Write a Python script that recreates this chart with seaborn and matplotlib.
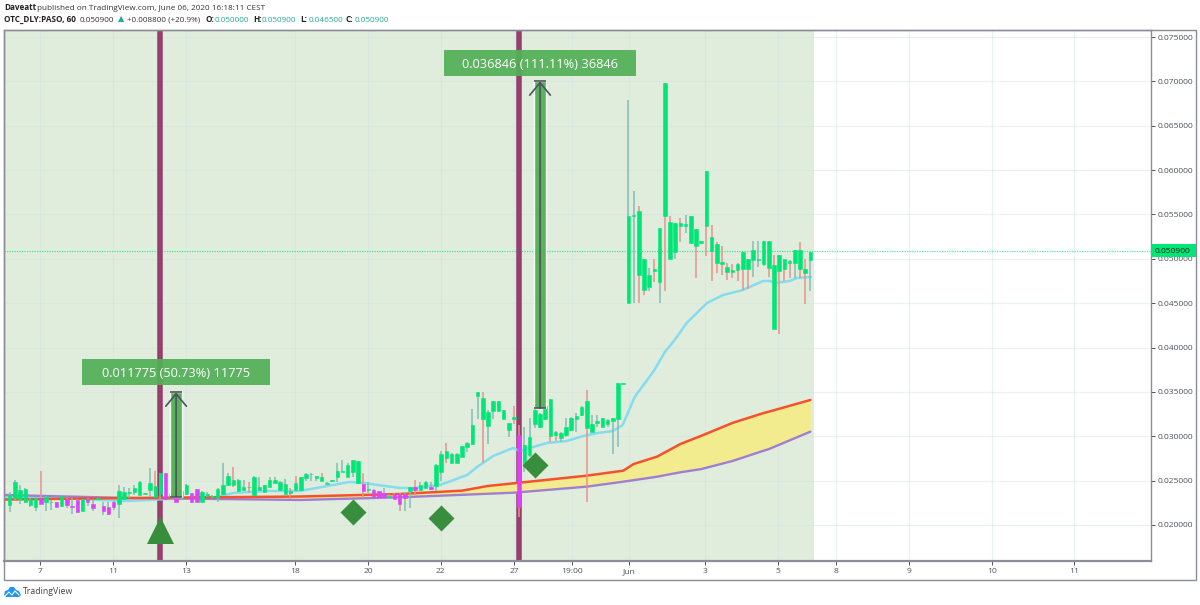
import numpy as np
import pandas as pd
import matplotlib
matplotlib.use("Agg")
import matplotlib.pyplot as plt
import seaborn as sns
from matplotlib.lines import Line2D
from matplotlib.patches import Rectangle, Polygon

sns.set_theme(style="white")
plt.rcParams['font.family'] = ['Open Sans', 'DejaVu Sans']

# candle values, in thousandths of a price unit
body_hi = [23.38,24.89,23.95,24.02,22.93,23.01,23.01,23.20,22.63,22.56,
           23.31,22.90,22.18,22.82,22.90,22.93,22.37,23.01,22.18,22.07,
           22.63,23.84,23.72,23.72,24.14,24.89,23.57,24.74,24.40,25.90,
           25.90,23.50,23.01,23.84,24.51,23.57,24.02,23.72,23.46,23.27,
           24.06,24.51,25.53,25.07,25.07,24.25,24.32,25.45,24.32,24.47,
           25.07,25.07,24.89,24.62,23.87,24.70,25.45,25.71,25.79,25.49,
           25.45,24.77,25.04,26.09,26.05,26.73,27.33,27.25,24.62,24.02,
           23.95,23.84,23.57,23.27,23.50,23.50,23.50,24.25,24.29,24.47,
           24.89,24.25,26.80,28.01,28.38,28.01,28.01,28.91,29.28,31.27,
           34.96,34.28,32.78,33.98,33.98,32.96,31.46,32.18,30.15,29.02,
           29.96,32.96,32.48,33.42,34.20,30.52,30.41,31.01,32.03,32.29,
           33.30,33.98,31.39,31.72,32.02,31.80,32.02,35.97,36.00,54.86,
           54.93,55.39,49.94,48.17,48.81,53.43,69.85,54.18,54.03,54.03,
           53.88,54.82,53.36,51.97,59.86,52.42,51.67,49.64,49.07,48.73,
           49.41,50.76,49.94,50.95,49.97,52.00,52.00,49.30,50.43,49.94,
           49.79,50.95,50.95,48.88,50.76]
body_lo = [22.26,23.01,22.90,22.63,22.26,21.99,22.37,22.63,22.56,22.07,
           22.18,22.26,21.99,21.43,21.62,22.56,21.88,22.93,21.62,21.24,
           21.99,22.37,22.93,23.65,23.76,23.38,23.50,23.95,23.20,23.46,
           22.90,23.27,22.56,23.08,23.50,22.56,22.63,22.63,23.27,23.12,
           23.01,23.46,24.51,24.51,23.87,23.95,24.25,23.38,23.95,23.76,
           24.32,24.77,23.95,23.50,23.65,23.95,23.95,25.26,25.71,25.26,
           25.00,24.62,24.96,25.45,25.98,25.45,25.94,24.70,23.84,23.95,
           23.20,23.20,23.20,23.20,22.93,22.37,23.01,23.87,23.95,23.95,
           24.21,24.06,24.40,26.01,27.52,26.95,26.95,27.70,28.83,29.13,
           34.58,31.95,31.20,32.89,32.89,31.95,30.71,31.95,21.99,26.95,
           27.89,31.39,31.09,31.95,30.07,30.15,29.77,30.11,30.71,31.95,
           32.40,30.97,30.52,31.50,31.01,31.38,31.76,31.95,35.93,45.05,
           54.78,48.17,46.48,46.86,48.66,47.42,54.86,49.97,50.76,53.69,
           53.73,51.82,51.48,51.82,53.69,50.88,49.56,49.37,48.47,48.55,
           48.70,48.85,48.85,49.90,49.90,49.41,49.00,42.05,48.62,48.85,
           49.56,49.52,48.85,48.40,49.90]
wick_hi = [23.76,25.07,24.51,24.14,23.01,23.12,26.09,23.27,22.82,22.63,
           23.38,23.01,23.01,22.90,22.97,23.01,22.82,23.08,22.63,22.63,
           22.82,24.51,24.32,24.14,24.51,25.00,23.65,26.46,26.09,25.90,
           25.90,23.57,23.38,23.95,24.59,23.65,24.10,23.84,23.76,23.38,
           24.14,27.03,25.83,26.50,25.15,25.07,24.89,25.53,25.45,24.55,
           25.45,25.38,25.00,25.15,24.14,25.53,25.45,25.83,25.83,25.53,
           25.83,24.85,25.11,27.03,27.33,26.95,27.33,27.25,25.83,24.89,
           24.02,23.87,24.14,23.50,23.57,23.57,23.76,24.32,25.07,24.89,
           25.00,24.89,26.88,28.38,29.28,28.08,28.08,28.91,29.40,33.04,
           34.96,34.96,32.96,33.98,33.98,32.96,31.54,33.45,31.27,31.09,
           32.03,33.04,32.59,33.53,34.20,30.60,30.52,32.03,32.14,32.59,
           33.42,35.22,32.40,32.40,32.02,31.91,32.02,35.97,36.00,67.90,
           57.68,55.95,49.94,48.92,49.94,53.43,69.85,54.86,54.03,54.63,
           54.93,54.82,53.36,51.97,59.86,53.77,51.89,51.44,49.49,49.41,
           49.49,50.76,49.94,52.00,52.00,52.00,52.00,50.43,50.43,49.94,
           49.86,50.95,51.93,49.94,50.76]
wick_lo = [21.43,22.82,22.33,22.52,22.07,21.62,22.37,21.62,21.69,21.99,
           22.07,21.96,21.21,21.39,21.58,22.18,21.62,22.82,21.13,21.13,
           21.69,20.83,22.82,23.01,23.38,23.38,23.50,23.20,23.12,22.82,
           22.82,23.20,22.56,23.01,23.38,22.52,22.60,22.56,23.12,23.01,
           22.56,23.38,24.40,24.32,23.76,23.87,23.57,23.27,23.87,23.72,
           24.25,24.70,23.87,23.46,22.90,23.87,23.87,25.00,25.00,25.00,
           24.92,24.62,24.85,24.89,25.98,25.38,25.45,24.62,23.01,23.57,
           23.12,23.12,23.12,22.97,22.90,21.62,21.62,21.96,23.38,23.87,
           24.10,23.95,23.87,25.00,27.03,26.95,26.95,27.70,28.23,29.02,
           31.95,26.95,29.13,31.91,32.89,31.95,29.88,31.35,20.94,26.01,
           27.70,30.90,30.97,31.84,29.40,29.51,29.40,29.88,30.60,30.52,
           32.29,22.63,30.45,31.01,31.01,31.01,28.00,28.83,35.93,45.05,
           45.05,44.98,45.92,46.41,47.42,44.98,46.41,49.97,49.97,51.93,
           52.87,51.82,47.87,51.82,50.35,47.50,48.43,48.17,47.61,47.87,
           47.50,46.48,46.56,48.00,49.11,49.22,48.00,42.05,41.48,47.50,
           47.80,47.80,47.80,44.90,46.41]
down_bars = [6,9,11,12,13,15,16,18,19,20,30,32,35,36,68,70,71,72,74,75,76,78,81,98]
red_wicks = [6,28,43,46,54,55,60,68,75,78,84,91,97,98,104,105,111,121,122,124,126,
             127,129,132,134,135,136,137,138,139,140,141,142,146,147,148,149,150,152,153]

# moving averages
ema_x = [-1,11,17.4,22.6,30.3,39.9,43,49.5,55.8,62.2,65.4,68,75,77.6,82.8,88,89.9,93,96.8,98.1,
         103.3,107.2,110.3,113.1,116,117.9,120.2,124,126,127.9,130.2,134.1,137.2,141,144.9,
         146.2,147.2,150,151.4,154.1]
ema_y = [23.16,23.04,22.82,22.70,22.93,23.16,23.61,23.83,23.83,24.51,24.85,24.73,24.17,24.17,24.51,
         25.64,26.54,27.78,28.68,28.34,29.24,29.47,30.03,30.37,30.59,31.27,34.43,37.47,39.50,40.85,
         42.77,45.02,45.92,46.48,47.50,47.50,47.27,47.50,47.84,47.95]
ma_x = [-1,23,56,75,87,92,97,111,118,120,124.5,129,133,139,145,146,154]
ma_fast = [22.87,23.04,23.21,23.49,23.87,24.40,24.70,25.56,26.12,26.87,27.70,29.13,30.05,31.50,32.62,32.77,34.09]
ma_slow = [23.38,23.04,22.82,23.12,23.40,23.52,23.64,24.32,24.88,25.05,25.44,25.94,26.30,27.21,28.37,28.55,30.52]

# drawings on the chart
signal_bars = [29, 98]
triangle_x, triangle_y = [29], [19.49]
diamond_x = [66, 83, 101]
diamond_y = [21.50, 20.82, 26.76]
arrow_x = [32, 102]
arrow_from = [23.165, 33.154]
arrow_to = [34.94, 70.0]
arrow_text = ["0.011775 (50.73%) 11775", "0.036846 (111.11%) 36846"]
label_y = [37.24, 72.1]
label_w = [36, 37]

price_ticks = [20, 25, 30, 35, 40, 45, 50, 55, 60, 65, 70, 75]
day_pos = [5.83,19.87,33.9,54.9,68.9,82.9,97,108.1,119.1,133.7,147.8,158.9,173,188.9,204.7]
day_labels = ["7","11","13","18","20","22","27","19:00","Jun","3","5","8","9","10","11"]
last_price = 50.9

UP = "#00e676"
DOWN = "#e040fb"
TEAL = "#26a69a"
GREY = "#50535e"

bars = pd.DataFrame({"body_hi": body_hi, "body_lo": body_lo, "wick_hi": wick_hi, "wick_lo": wick_lo})
bars["x"] = bars.index
bars["body"] = np.where(bars.index.isin(down_bars), DOWN, UP)
bars["wick"] = np.where(bars.index.isin(red_wicks), "#e8928a", "#83bdb6")

W, H = 1200, 605
fig = plt.figure(figsize=(W / 100, H / 100), dpi=100, facecolor="white")
ax = fig.add_axes([4 / W, 1 - 561 / H, (1151 - 4) / W, (561 - 30) / H])
ax.set_xlim(-1.096, 219.5)
ax.set_ylim(15.94, 75.79)

ax.set_yticks(price_ticks)
ax.set_yticklabels(["%.6f" % (p / 1000) for p in price_ticks])
ax.yaxis.tick_right()
ax.set_xticks(day_pos)
ax.set_xticklabels(day_labels)
ax.tick_params(axis="both", length=3, width=0.7, color=GREY, labelcolor=GREY, labelsize=6.1, pad=2,
               bottom=True, right=True, left=False)
ax.grid(True, color="#cfe3e6", alpha=0.45, lw=0.9, zorder=1)
ax.set_axisbelow(True)
for side in ax.spines:
    ax.spines[side].set_color("#8b8d96")
    ax.spines[side].set_linewidth(1.0)
ax.spines["bottom"].set_linewidth(1.6)

ax.axvspan(-1.096, 154.6, color="#e1eddc", lw=0, zorder=0.5)
ax.axhline(last_price, color=UP, lw=0.9, ls=(0, (1, 1)), alpha=0.7, zorder=1.5)

for b in signal_bars:
    ax.axvline(b, color="#963f6f", lw=4.0, zorder=2)

ax.fill_between(ma_x, ma_fast, ma_slow, color="#f2ec8e", lw=0, zorder=2.1)
sns.lineplot(x=ema_x, y=ema_y, ax=ax, color="#84dcee", lw=1.8, sort=False, zorder=3)
sns.lineplot(x=ma_x, y=ma_slow, ax=ax, color="#a07fd0", lw=1.7, sort=False, zorder=3)
sns.lineplot(x=ma_x, y=ma_fast, ax=ax, color="#f4512c", lw=1.8, sort=False, zorder=3.1)

ax.vlines(bars["x"], bars["wick_lo"], bars["wick_hi"], colors=bars["wick"], lw=1.1, zorder=4)
ax.bar(bars["x"], bars["body_hi"] - bars["body_lo"], bottom=bars["body_lo"], width=0.68,
       color=bars["body"], edgecolor=bars["body"], lw=0.4, zorder=5)

# measure arrows
for x, y0, y1, txt, ly, lw_ in zip(arrow_x, arrow_from, arrow_to, arrow_text, label_y, label_w):
    ax.bar(x, y1 - y0, bottom=y0, width=2.15, color="#4caf50", alpha=0.92, zorder=6)
    ax.annotate("", xy=(x, y1), xytext=(x, y0), zorder=7,
                arrowprops=dict(arrowstyle="->,head_length=0.75,head_width=0.62", color=GREY,
                                lw=1.2, shrinkA=0, shrinkB=0))
    ax.hlines([y0, y1], x - 1.1, x + 1.1, colors=GREY, lw=1.2, zorder=7)
    ax.add_patch(Rectangle((x - lw_ / 2, ly - 1.47), lw_, 2.94, facecolor="#53b057", alpha=0.93,
                           edgecolor="none", zorder=8))
    ax.text(x, ly, txt, color="white", fontsize=9.2, ha="center", va="center_baseline", zorder=9)

ax.scatter(triangle_x, triangle_y, marker="^", s=378, color="#388e3c", linewidths=0, zorder=8)
ax.scatter(diamond_x, diamond_y, marker="D", s=175, color="#388e3c", linewidths=0, zorder=8)

# last price tag on the scale
trans = ax.get_yaxis_transform()
ax.add_patch(Rectangle((1.0, last_price - 0.72), 45 / 1147, 1.44, transform=trans, facecolor=UP,
                       edgecolor="none", clip_on=False, zorder=10))
ax.text(1.0 + 4 / 1147, last_price, "%.6f" % (last_price / 1000), transform=trans, color="#10201a",
        fontsize=6.1, va="center_baseline", zorder=11)

# outer frame around chart and scales
fig.add_artist(Rectangle((4 / W, 1 - 580 / H), 1192 / W, 550 / H, transform=fig.transFigure,
                         fill=False, edgecolor="#8b8d96", lw=1.0))

def head(px, py, s, color=GREY, bold=False):
    fig.text(px / W, 1 - py / H, s, color=color, fontsize=5.85, va="center",
             fontweight="bold" if bold else "normal")

head(4, 8, "Daveatt", "#222222", True)
head(37, 8, "published on TradingView.com, June 06, 2020 16:18:11 CEST", "#333333")
head(4, 20, "OTC_DLY:PASO, 60", "#222222", True)
head(80, 20, "0.050900", "#333333")
head(118, 20, "▲", TEAL)
head(127, 20, "+0.008800 (+20.9%)", "#333333")
for px, lab, val in [(206, "O:", "0.050000"), (253, "H:", "0.050900"), (300, "L:", "0.046500"), (346, "C:", "0.050900")]:
    head(px, 20, lab, "#222222", True)
    head(px + 9, 20, val, TEAL)

# logo
cloud = [(4, 595), (5, 591), (8, 590), (10, 587), (14, 587), (16, 590), (19, 591), (21, 595), (19, 597), (6, 597)]
fig.add_artist(Polygon([(x / W, 1 - y / H) for x, y in cloud], closed=True, transform=fig.transFigure,
                       facecolor="#2196f3", edgecolor="none"))
zig = [(5, 596), (9, 592), (12, 595), (15, 591), (19, 595)]
fig.add_artist(Line2D([x / W for x, y in zig], [1 - y / H for x, y in zig], transform=fig.transFigure,
                      color="white", lw=0.8))
fig.text(23 / W, 1 - 592 / H, "TradingView", color="#444444", fontsize=6.3, va="center")

fig.savefig("out.png", dpi=100)
